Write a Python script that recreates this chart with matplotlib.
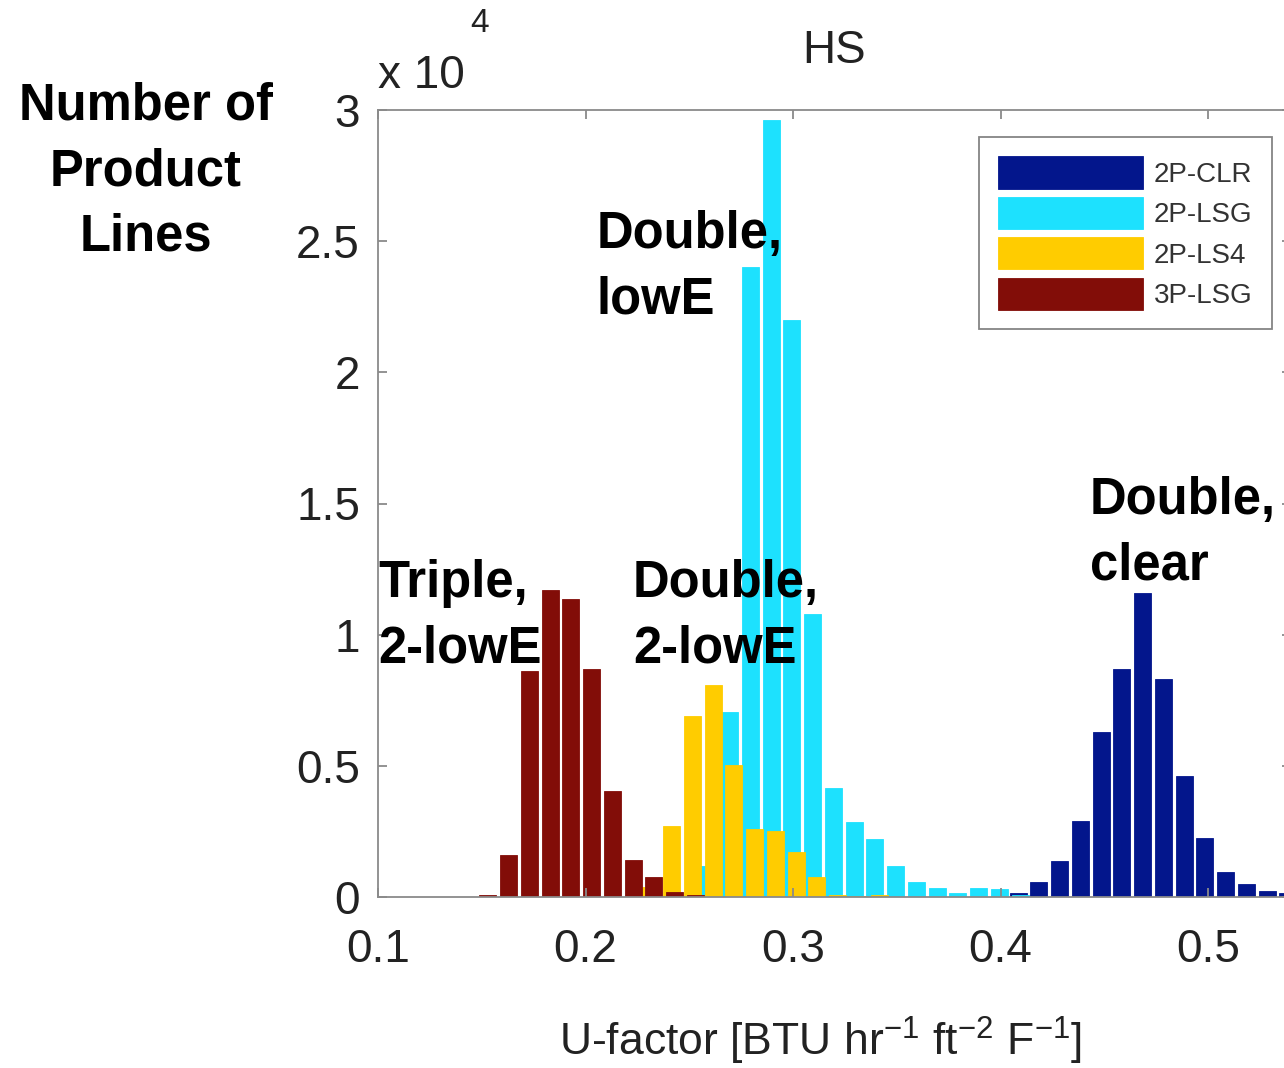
import matplotlib
matplotlib.use("Agg")
import matplotlib.pyplot as plt
from matplotlib.ticker import FuncFormatter

# histogram bin centres and counts
clr_x = [0.4085, 0.4185, 0.4285, 0.4385, 0.4485, 0.4585, 0.4685, 0.4785,
         0.4885, 0.4985, 0.5085, 0.5185, 0.5285, 0.5385]
clr_n = [160, 570, 1360, 2900, 6300, 8700, 11600, 8300,
         4600, 2260, 970, 480, 240, 150]

lsg_x = [0.2595, 0.2695, 0.2795, 0.2895, 0.2995, 0.3095, 0.3195, 0.3295,
         0.3395, 0.3495, 0.3595, 0.3695, 0.3795, 0.3895, 0.3995, 0.4095]
lsg_n = [1200, 7050, 24000, 29600, 22000, 10800, 4150, 2870,
         2200, 1200, 580, 350, 160, 350, 290, 80]

ls4_x = [0.2315, 0.2415, 0.2515, 0.2615, 0.2715, 0.2815, 0.2915, 0.3015,
         0.3115, 0.3215, 0.3315, 0.3415]
ls4_n = [400, 2700, 6900, 8100, 5050, 2600, 2500, 1700,
         770, 60, 40, 60]

tp_x = [0.153, 0.163, 0.173, 0.183, 0.193, 0.203, 0.213, 0.223,
        0.233, 0.243, 0.253]
tp_n = [80, 1600, 8600, 11700, 11350, 8700, 4050, 1400,
        770, 180, 80]

series = [("2P-CLR", clr_x, clr_n, "#03168C"),
          ("2P-LSG", lsg_x, lsg_n, "#1DE1FE"),
          ("2P-LS4", ls4_x, ls4_n, "#FFCC00"),
          ("3P-LSG", tp_x, tp_n, "#820D08")]

plt.rcParams['font.family'] = ['Liberation Sans', 'DejaVu Sans']
plt.rcParams['mathtext.default'] = 'regular'

W, H = 1284, 1068
fig = plt.figure(figsize=(W / 100, H / 100), dpi=100)
ax = fig.add_axes([378 / W, 1 - 897 / H, (1291 - 378) / W, (897 - 110) / H])

for name, x, n, col in series:
    ax.bar(x, n, width=0.0082, color=col, edgecolor=col, linewidth=0.6, label=name)

ax.set_xlim(0.1, 0.54)
ax.set_ylim(0, 30000)
ax.set_xticks([0.1, 0.2, 0.3, 0.4, 0.5])
ax.set_yticks([0, 5000, 10000, 15000, 20000, 25000, 30000])
ax.yaxis.set_major_formatter(FuncFormatter(lambda v, p: '%g' % (v / 1e4)))
ax.xaxis.set_major_formatter(FuncFormatter(lambda v, p: '%g' % v))

gray = '#8a8a8a'
for s in ax.spines.values():
    s.set_color(gray)
    s.set_linewidth(1.3)
ax.tick_params(direction='in', length=6.5, width=1.3, color=gray,
               top=True, right=True, labelsize=33, labelcolor='#222222')
ax.tick_params(axis='x', pad=22)
ax.tick_params(axis='y', pad=13)

ax.set_title('HS', fontsize=33, color='#222222', pad=34)
ax.set_xlabel(r'U-factor [BTU hr$^{-1}$ ft$^{-2}$ F$^{-1}$]', fontsize=32, color='#222222')
ax.xaxis.set_label_coords((821 - 378) / (1291 - 378), -0.15)

# MATLAB style exponent label
fig.text(378 / W, 1 - 88 / H, 'x 10', fontsize=33, color='#222222', va='baseline')
fig.text(470 / W, 1 - 32 / H, '4', fontsize=24, color='#222222', va='baseline')

leg = ax.legend(loc='upper right', bbox_to_anchor=(1272 / W, 1 - 137 / H),
                bbox_transform=fig.transFigure, frameon=True,
                fancybox=False, handlelength=5.2, handleheight=1.4,
                labelspacing=0.3, handletextpad=0.4, borderpad=0.7,
                borderaxespad=0, prop={'family': ['Liberation Sans'], 'size': 20})
leg.get_frame().set_edgecolor('#666666')
leg.get_frame().set_linewidth(1.3)
for t in leg.get_texts():
    t.set_color('#333333')

# annotations
lab = dict(fontsize=36.5, fontweight='bold', family=['Liberation Sans'],
           va='top', linespacing=1.43)
fig.text(146 / W, 1 - 82 / H, 'Number of\nProduct\nLines', ha='center', **lab)
fig.text(597 / W, 1 - 210 / H, 'Double,\nlowE', ha='left', **lab)
fig.text(378 / W, 1 - 559 / H, 'Triple,\n2-lowE', ha='left', **lab)
fig.text(633 / W, 1 - 559 / H, 'Double,\n2-lowE', ha='left', **lab)
fig.text(1090 / W, 1 - 476 / H, 'Double,\nclear', ha='left', **lab)

fig.savefig('out.png', dpi=100)
